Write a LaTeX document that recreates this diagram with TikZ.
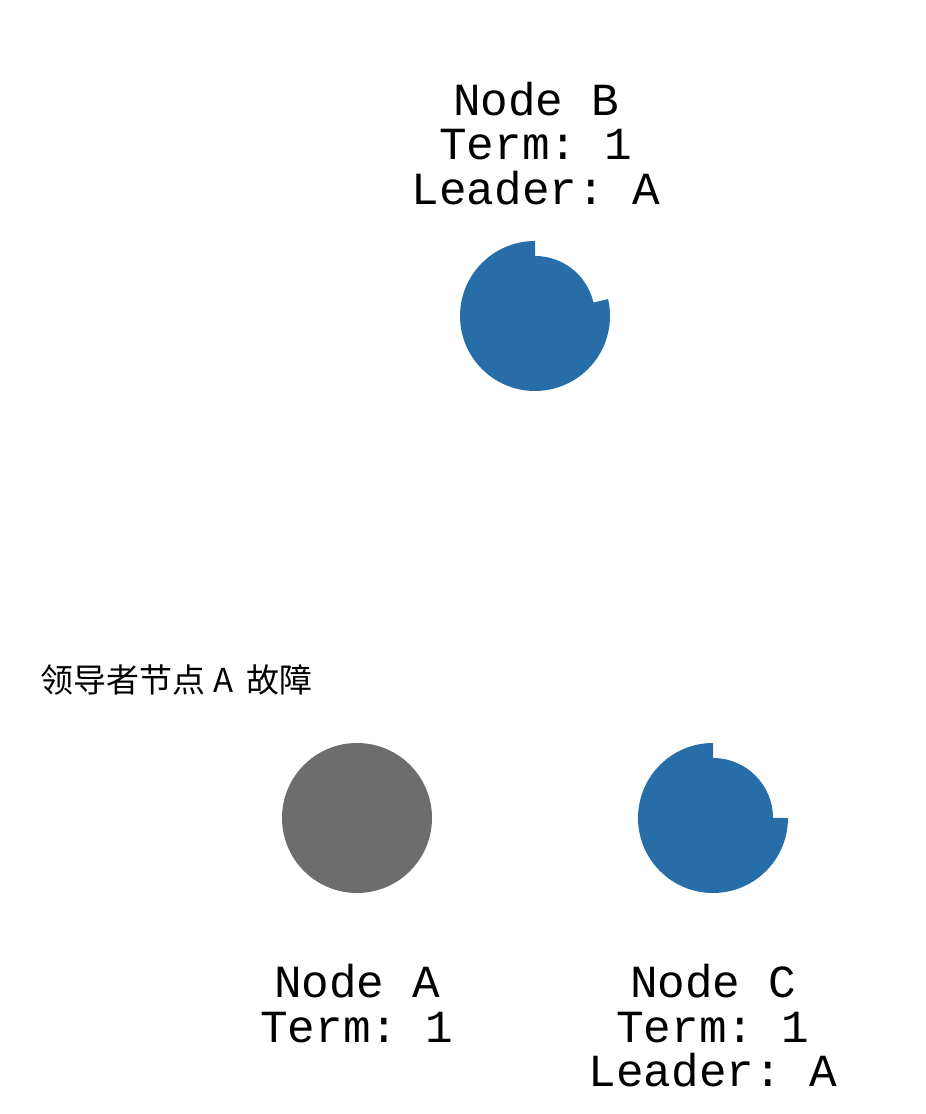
\documentclass[tikz,border=0pt]{standalone}
\usepackage{fontspec}
\setmonofont{Liberation Mono}
\newfontfamily\cjk{Noto Sans CJK SC}
\usetikzlibrary{positioning}
\usetikzlibrary{calc}
\definecolor{raftblue}{RGB}{39,110,169}
\definecolor{raftgray}{RGB}{109,109,109}
\tikzset{server/.style={circle, fill=#1, minimum size=150pt, inner sep=0pt}}
\tikzset{timer/.style={fill=raftblue}}
\tikzset{info/.style={align=center, inner sep=0pt, font=\ttfamily\fontsize{46}{44.5}\selectfont}}
\tikzset{note/.style={anchor=base west, inner sep=0pt, font=\cjk\fontsize{33}{38}\selectfont}}

\begin{document}
\begin{tikzpicture}[x=1pt, y=1pt]
    \useasboundingbox (0,0) rectangle (926,1114);

    % ------- Node B (follower, timer running) ------- %
    \coordinate (srvB) at (535,798);
    \fill [timer] ($(srvB) + (90:75)$) arc [start angle=90, end angle=373, radius=75]
        -- ($(srvB) + (13:60)$) arc [start angle=13, end angle=90, radius=60] -- cycle;
    \node [info, anchor=south] (infoB) at ($(srvB) + (1,111)$)
        {Node B\\Term: 1\\Leader: A};

    % ------- Node A (failed leader) ------- %
    \node [server=raftgray] (srvA) at (357,296) {};
    \node [info, anchor=north] (infoA) at ($(srvA.center) + (0,-146)$)
        {Node A\\Term: 1};

    % ------- Node C (follower, timer running) ------- %
    \coordinate (srvC) at (713,296);
    \fill [timer] ($(srvC) + (90:75)$) arc [start angle=90, end angle=360, radius=75]
        -- ($(srvC) + (0:60)$) arc [start angle=0, end angle=90, radius=60] -- cycle;
    \node [info, anchor=north] (infoC) at ($(srvC) + (0,-146)$)
        {Node C\\Term: 1\\Leader: A};

    % The caption of the event.
    \node [note] (crash) at (40,421) {领导者节点\hspace{8pt}A\hspace{13pt}故障};
\end{tikzpicture}
\end{document}
